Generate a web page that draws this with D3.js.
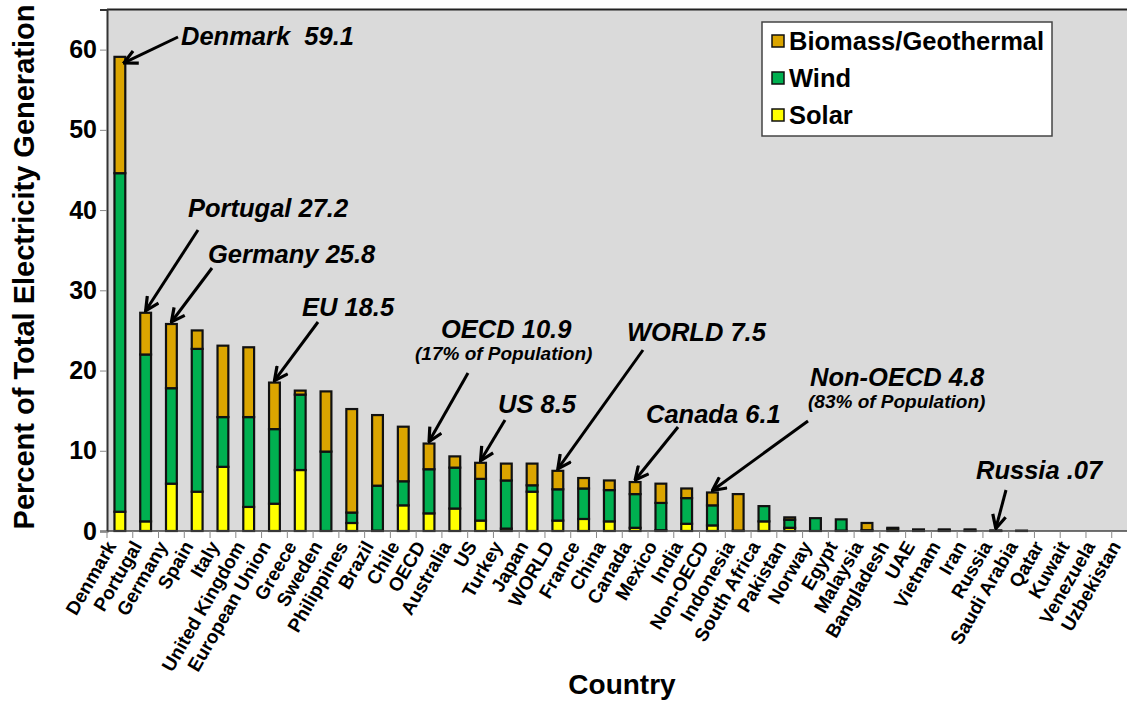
<!DOCTYPE html>
<html>
<head>
<meta charset="utf-8">
<script src="https://cdn.jsdelivr.net/npm/d3@7"></script>
<style>
  html, body { margin: 0; padding: 0; background: #ffffff; }
  svg { display: block; font-family: "Liberation Sans", Arial, sans-serif; }
</style>
</head>
<body>
<svg id="chart" width="1127" height="702"></svg>
<script>
const categories = ["Denmark","Portugal","Germany","Spain","Italy","United Kingdom","European Union","Greece","Sweden","Philippines","Brazil","Chile","OECD","Australia","US","Turkey","Japan","WORLD","France","China","Canada","Mexico","India","Non-OECD","Indonesia","South Africa","Pakistan","Norway","Egypt","Malaysia","Bangladesh","UAE","Vietnam","Iran","Russia","Saudi Arabia","Qatar","Kuwait","Venezuela","Uzbekistan"];
const solar   = [2.4, 1.2, 5.9, 4.9, 8.0, 3.0, 3.4, 7.6, 0.0, 1.0, 0.05, 3.2, 2.2, 2.8, 1.3, 0.3, 4.9, 1.3, 1.5, 1.2, 0.4, 0.1, 0.9, 0.7, 0.0, 1.2, 0.4, 0.0, 0.05, 0.1, 0.3, 0.2, 0.0, 0.05, 0.0, 0.05, 0, 0, 0, 0];
const wind    = [42.2, 20.8, 11.9, 17.8, 6.2, 11.2, 9.3, 9.4, 9.9, 1.3, 5.6, 3.0, 5.5, 5.1, 5.2, 6.0, 0.8, 3.9, 3.8, 3.9, 4.2, 3.4, 3.2, 2.5, 0.05, 1.9, 1.0, 1.6, 1.4, 0.0, 0.0, 0.0, 0.1, 0.15, 0.01, 0.0, 0, 0, 0, 0];
const biomass = [14.5, 5.2, 8.0, 2.3, 8.9, 8.7, 5.8, 0.5, 7.5, 12.9, 8.8, 6.8, 3.2, 1.4, 2.0, 2.1, 2.7, 2.3, 1.3, 1.2, 1.5, 2.4, 1.2, 1.6, 4.55, 0.0, 0.3, 0.0, 0.0, 0.9, 0.1, 0.0, 0.1, 0.0, 0.06, 0.0, 0, 0, 0, 0];
const seriesNames = ["Solar","Wind","Biomass/Geothermal"];
const seriesColors = ["#ffff00","#00b050","#dba500"];
const yTicks = [0,10,20,30,40,50,60];
const annotations = [
  {country:"Denmark", text:"Denmark\u00a0\u00a059.1", sub:null, tx:181, ty:45, x1:178, y1:37},
  {country:"Portugal", text:"Portugal 27.2", sub:null, tx:188, ty:217, x1:198, y1:230},
  {country:"Germany", text:"Germany 25.8", sub:null, tx:208, ty:263, x1:212, y1:268},
  {country:"European Union", text:"EU 18.5", sub:null, tx:302, ty:316, x1:318, y1:322},
  {country:"OECD", text:"OECD 10.9", sub:"(17% of Population)", tx:441, ty:338, x1:468, y1:373},
  {country:"US", text:"US 8.5", sub:null, tx:498, ty:413, x1:505, y1:420},
  {country:"WORLD", text:"WORLD 7.5", sub:null, tx:627, ty:341, x1:643, y1:350},
  {country:"Canada", text:"Canada 6.1", sub:null, tx:646, ty:423, x1:678, y1:427},
  {country:"Non-OECD", text:"Non-OECD 4.8", sub:"(83% of Population)", tx:810, ty:386, x1:808, y1:421},
  {country:"Russia", text:"Russia .07", sub:null, tx:976, ty:479, x1:1006, y1:490}
];

const svg = d3.select("#chart");
const plotL = 107, plotT = 9.5, plotB = 531, plotR = 1137.5;

const x = d3.scaleBand().domain(categories).range([plotL, plotR]).paddingInner(0.58).paddingOuter(0.29);
const y = d3.scaleLinear().domain([0, 65]).range([plotB, plotT]);

// plot background
svg.append("rect").attr("x", plotL).attr("y", plotT).attr("width", plotR - plotL).attr("height", plotB - plotT)
  .attr("fill", "#dadada");
svg.append("line").attr("x1", plotL).attr("x2", 1127).attr("y1", plotT).attr("y2", plotT)
  .attr("stroke", "#222").attr("stroke-width", 2);

// stacked data
const rows = categories.map((c, i) => ({country: c, Solar: solar[i], Wind: wind[i], "Biomass/Geothermal": biomass[i]}));
const stack = d3.stack().keys(seriesNames)(rows);

stack.forEach((layer, li) => {
  svg.append("g").selectAll("rect")
    .data(layer.filter(d => d[1] - d[0] > 0))
    .join("rect")
    .attr("x", d => x(d.data.country))
    .attr("width", x.bandwidth())
    .attr("y", d => y(d[1]))
    .attr("height", d => Math.max(0, y(d[0]) - y(d[1])))
    .attr("fill", seriesColors[li])
    .attr("stroke", "#111")
    .attr("stroke-width", 2.2);
});

// Y axis
const yAxis = svg.append("g").attr("transform", `translate(${plotL},0)`)
  .call(d3.axisLeft(y).tickValues(yTicks).tickSize(7).tickPadding(3).tickFormat(d3.format("d")));
yAxis.select(".domain").attr("stroke", "#333").attr("stroke-width", 2);
yAxis.selectAll(".tick line").attr("stroke", "#888").attr("stroke-width", 1);
yAxis.selectAll("text").attr("font-size", 25).attr("font-weight", "bold").attr("fill", "#000");

// X axis
const step = x.step();
svg.append("line").attr("x1", plotL).attr("x2", 1127).attr("y1", plotB).attr("y2", plotB)
  .attr("stroke", "#444").attr("stroke-width", 1.5);
const bounds = d3.range(categories.length + 1).map(i => plotL + i * step);
svg.append("g").selectAll("line").data(bounds).join("line")
  .attr("x1", d => d).attr("x2", d => d).attr("y1", plotB).attr("y2", plotB + 7)
  .attr("stroke", "#888").attr("stroke-width", 1);
svg.append("g").selectAll("text").data(categories).join("text")
  .attr("transform", d => `translate(${x(d) + x.bandwidth() / 2 - 3},${plotB + 15}) rotate(-60)`)
  .attr("text-anchor", "end")
  .attr("font-size", 19)
  .attr("font-weight", "bold")
  .text(d => d);

// axis titles
svg.append("text").attr("transform", `translate(34,267) rotate(-90)`)
  .attr("text-anchor", "middle").attr("font-size", 29).attr("font-weight", "bold").text("Percent of Total Electricity Generation");
svg.append("text").attr("x", 622).attr("y", 694)
  .attr("text-anchor", "middle").attr("font-size", 28).attr("font-weight", "bold").text("Country");

// legend
const lg = svg.append("g");
lg.append("rect").attr("x", 762).attr("y", 22).attr("width", 290).attr("height", 114)
  .attr("fill", "#fff").attr("stroke", "#444").attr("stroke-width", 1.5);
const legendOrder = [2, 1, 0];
legendOrder.forEach((si, k) => {
  const cy = 41 + k * 37;
  lg.append("rect").attr("x", 772).attr("y", cy - 6).attr("width", 12).attr("height", 12)
    .attr("fill", seriesColors[si]).attr("stroke", "#111").attr("stroke-width", 1.5);
  lg.append("text").attr("x", 789).attr("y", cy).attr("dy", "0.36em")
    .attr("font-size", 25.5).attr("font-weight", "bold").text(seriesNames[si]);
});

// arrow marker
svg.append("defs").append("marker").attr("id", "arr")
  .attr("viewBox", "0 0 12 12").attr("refX", 11).attr("refY", 6)
  .attr("markerWidth", 16).attr("markerHeight", 16).attr("markerUnits", "userSpaceOnUse")
  .attr("orient", "auto")
  .append("path").attr("d", "M1,1 L11,6 L1,11").attr("fill", "none").attr("stroke", "#000").attr("stroke-width", 2.4);

// annotations
annotations.forEach(a => {
  const i = categories.indexOf(a.country);
  const total = solar[i] + wind[i] + biomass[i];
  const bx = x(a.country) + x.bandwidth() / 2;
  const by = y(total) - 2;
  svg.append("line").attr("x1", a.x1).attr("y1", a.y1).attr("x2", bx + (a.country === "Denmark" ? 4 : 0)).attr("y2", by + (a.country === "Denmark" ? 8 : 0))
    .attr("stroke", "#000").attr("stroke-width", 3).attr("marker-end", "url(#arr)");
  svg.append("text").attr("x", a.tx).attr("y", a.ty)
    .attr("font-size", 25.5).attr("font-weight", "bold").attr("font-style", "italic").text(a.text);
  if (a.sub) {
    svg.append("text").attr("x", a.tx - (a.country === "OECD" ? 26 : 2)).attr("y", a.ty + 22)
      .attr("font-size", 19).attr("font-weight", "bold").attr("font-style", "italic").text(a.sub);
  }
});
</script>
</body>
</html>
